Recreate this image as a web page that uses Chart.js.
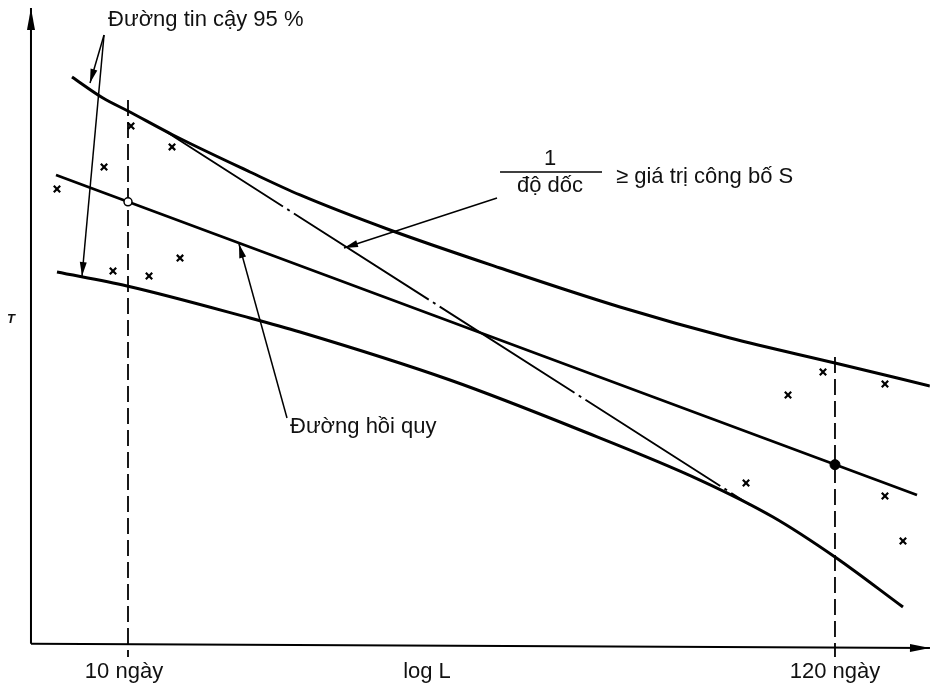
<!DOCTYPE html>
<html><head><meta charset="utf-8">
<script src="https://cdn.jsdelivr.net/npm/chart.js@4"></script>
<style>html,body{margin:0;padding:0;background:#fff}canvas{display:block}</style>
</head><body>
<canvas id="c" width="930" height="691"></canvas>
<script>
// ---- data (x = log10 of days, y = T) ----
const upperLogL = [0.9145, 0.9618, 1.0000, 1.0687, 1.1862, 1.2626, 1.3999, 1.5679, 1.7510, 1.9190, 2.0792, 2.2242];
const upperT    = [89.45, 86.14, 84.09, 80.31, 74.49, 70.87, 65.35, 59.37, 53.23, 48.35, 44.41, 40.79];
const lowerLogL = [0.8916, 0.9985, 1.1862, 1.2626, 1.4915, 1.6900, 1.8731, 1.9846, 2.0792, 2.1830];
const lowerT    = [58.74, 56.54, 51.50, 49.29, 41.73, 33.86, 25.98, 20.16, 13.86, 5.98];
const regressionLogL = [0.8901, 2.2044];
const regressionT    = [74.02, 23.62];
const tangentLogL = [1.0565, 1.9495];
const tangentT    = [80.94, 22.05];
const sampleLogL = [0.8916, 0.9634, 1.0046, 1.0672, 0.9771, 1.0321, 1.0794, 1.9434, 2.0075, 2.0609, 2.1555, 2.1555, 2.1830];
const sampleT    = [71.81, 75.28, 81.73, 78.43, 58.90, 58.11, 60.94, 25.51, 39.37, 42.99, 41.10, 23.46, 16.38];
const tickLogL   = [1, 2.0792];
const tickLabels = ['10 ngày', '120 ngày'];
const meanT      = [69.8, 28.4];
const guideTop   = [85.83, 45.35];
const axisLabelX = 'log L';
const axisLabelY = 'T';

const zip = (xs, ys) => xs.map((v, i) => ({x: v, y: ys[i]}));

const datasets = [
  {data: [{x: tickLogL[0], y: meanT[0]}], showLine: false, pointRadius: 4, pointBackgroundColor: '#fff', pointBorderColor: '#000', pointBorderWidth: 1.5},
  {data: [{x: tickLogL[1], y: meanT[1]}], showLine: false, pointRadius: 5, pointBackgroundColor: '#000', pointBorderColor: '#000', pointBorderWidth: 1},
  {data: zip(sampleLogL, sampleT), showLine: false, pointStyle: 'crossRot', pointRadius: 4.5, pointBorderColor: '#000', pointBorderWidth: 2.2},
  {data: zip(upperLogL, upperT), showLine: true, borderColor: '#000', borderWidth: 3, pointRadius: 0, cubicInterpolationMode: 'monotone'},
  {data: zip(lowerLogL, lowerT), showLine: true, borderColor: '#000', borderWidth: 3, pointRadius: 0, cubicInterpolationMode: 'monotone'},
  {data: zip(regressionLogL, regressionT), showLine: true, borderColor: '#000', borderWidth: 2.8, pointRadius: 0},
  {data: zip(tangentLogL, tangentT), showLine: true, borderColor: '#000', borderWidth: 1.9, pointRadius: 0, borderDash: [160, 5, 3, 5], borderDashOffset: 20},
  {data: [{x: tickLogL[0], y: guideTop[0]}, {x: tickLogL[0], y: -1.9}], showLine: true, borderColor: '#000', borderWidth: 1.8, pointRadius: 0, borderDash: [16, 6]},
  {data: [{x: tickLogL[1], y: guideTop[1]}, {x: tickLogL[1], y: -1.9}], showLine: true, borderColor: '#000', borderWidth: 1.8, pointRadius: 0, borderDash: [16, 6]}
];

function arrowHead(ctx, x1, y1, x2, y2, len, hw) {
  const a = Math.atan2(y2 - y1, x2 - x1);
  const bx = x2 - len * Math.cos(a), by = y2 - len * Math.sin(a);
  ctx.beginPath();
  ctx.moveTo(x2, y2);
  ctx.lineTo(bx + hw * Math.sin(a), by - hw * Math.cos(a));
  ctx.lineTo(bx - hw * Math.sin(a), by + hw * Math.cos(a));
  ctx.closePath();
  ctx.fill();
}
function arrow(ctx, x1, y1, x2, y2, len, hw) {
  ctx.beginPath(); ctx.moveTo(x1, y1); ctx.lineTo(x2, y2); ctx.stroke();
  arrowHead(ctx, x1, y1, x2, y2, len, hw);
}

const deco = {
  id: 'deco',
  afterDraw(chart) {
    const {ctx, scales: {x, y}} = chart;
    const X = v => x.getPixelForValue(v), Y = v => y.getPixelForValue(v);
    ctx.save();
    ctx.strokeStyle = '#000'; ctx.fillStyle = '#000'; ctx.lineCap = 'butt';
    // axes
    ctx.lineWidth = 2;
    arrow(ctx, X(0.8519), Y(0.2), X(0.8519), Y(100.31), 22, 4);
    arrow(ctx, X(0.8519), Y(0.2), X(2.2242), Y(-0.47), 20, 4);
    // annotation arrows
    ctx.lineWidth = 1.5;
    arrow(ctx, X(0.9634), Y(96.06), X(0.9420), Y(88.50), 14, 3.5);
    arrow(ctx, X(0.9634), Y(96.06), X(0.9298), Y(58.11), 14, 3.5);
    arrow(ctx, X(1.5633), Y(70.39), X(1.3297), Y(62.52), 14, 3.5);
    arrow(ctx, X(1.2427), Y(35.75), X(1.1694), Y(63.15), 14, 3.5);
    // texts
    ctx.fillStyle = '#111';
    ctx.font = '22px "Liberation Sans", Arial, sans-serif';
    ctx.textBaseline = 'alphabetic';
    ctx.textAlign = 'left';
    ctx.fillText('Đường tin cậy 95 %', X(0.9695), Y(97.48));
    ctx.fillText('≥ giá trị công bố S', X(1.7449), Y(72.76));
    ctx.fillText('Đường hồi quy', X(1.2473), Y(33.39));
    ctx.textAlign = 'center';
    ctx.fillText('1', X(1.6442), Y(75.59));
    ctx.fillText('độ dốc', X(1.6442), Y(71.34));
    ctx.fillText(axisLabelX, X(1.4564), Y(-5.2));
    tickLabels.forEach((t, i) => ctx.fillText(t, X(tickLogL[i]) - (i === 0 ? 4 : 0), Y(-5.2)));
    ctx.lineWidth = 1.5;
    ctx.beginPath(); ctx.moveTo(X(1.5679), Y(74.49)); ctx.lineTo(X(1.7236), Y(74.49)); ctx.stroke();
    ctx.font = 'italic bold 13px "Liberation Sans", Arial, sans-serif';
    ctx.textBaseline = 'middle';
    ctx.fillText(axisLabelY, X(0.8214), Y(51.34));
    ctx.restore();
  }
};

new Chart(document.getElementById('c'), {
  type: 'scatter',
  data: {datasets},
  options: {
    responsive: false, animation: false, devicePixelRatio: 1,
    layout: {autoPadding: false, padding: {left: 29.735, right: 0.16, top: 10, bottom: 33.3}},
    plugins: {legend: {display: false}, tooltip: {enabled: false}, title: {display: false}},
    scales: {
      x: {type: 'linear', min: 0.85, max: 2.224, display: false},
      y: {type: 'linear', min: -2, max: 100, display: false}
    }
  },
  plugins: [deco]
});
</script>
</body></html>
